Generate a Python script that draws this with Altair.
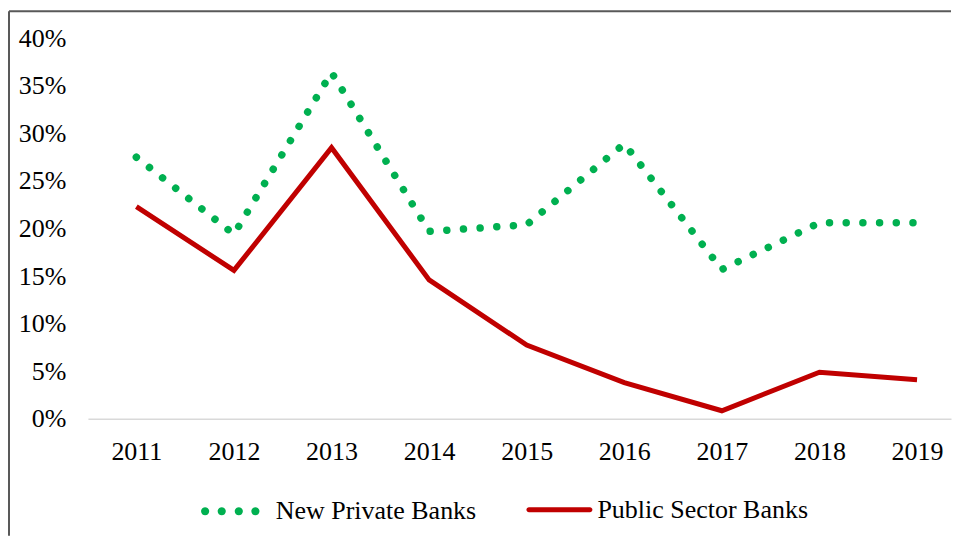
import altair as alt
import pandas as pd

years = [2011, 2012, 2013, 2014, 2015, 2016, 2017, 2018, 2019]
new_private = [27.5, 19.4, 36.4, 19.7, 20.4, 28.9, 15.7, 20.6, 20.6]
public_sector = [22.3, 15.6, 28.5, 14.6, 7.75, 3.8, 0.85, 4.9, 4.1]
series_names = ["New Private Banks", "Public Sector Banks"]
y_ticks = [0, 5, 10, 15, 20, 25, 30, 35, 40]

GREEN = "#00B050"
RED = "#C00000"
FONT = "Liberation Serif"

df_np = pd.DataFrame({"year": years, "value": new_private, "series": series_names[0]})
df_ps = pd.DataFrame({"year": years, "value": public_sector, "series": series_names[1]})

x_enc = alt.X(
    "year:Q",
    scale=alt.Scale(domain=[2010.5035, 2019.348], nice=False, zero=False),
    axis=alt.Axis(
        values=years, format="d", ticks=False, grid=False, title=None,
        domainColor="#D9D9D9", domainWidth=1.5,
        labelFont=FONT, labelFontSize=26, labelColor="#000000", labelPadding=20,
    ),
)
y_enc = alt.Y(
    "value:Q",
    scale=alt.Scale(domain=[0, 40], nice=False),
    axis=alt.Axis(
        values=y_ticks, labelExpr="datum.value + '%'", ticks=False, grid=False,
        domain=False, title=None,
        labelFont=FONT, labelFontSize=26, labelColor="#000000", labelPadding=22,
    ),
)

# custom legend symbols (unit box -1..1)
def circ(cx, r):
    return (f"M{cx - r},0 A{r},{r} 0 1,0 {cx + r},0 A{r},{r} 0 1,0 {cx - r},0 Z ")

dots_path = "".join(circ(c, 0.14) for c in [-0.863, -0.293, 0.293, 0.863])
h = 0.076
bar_path = (f"M-0.924,-{h} L0.924,-{h} A{h},{h} 0 0,1 0.924,{h} "
            f"L-0.924,{h} A{h},{h} 0 0,1 -0.924,-{h} Z")

legend_common = dict(
    orient="none", title=None, padding=0, labelLimit=500,
    labelFont=FONT, labelFontSize=26, labelColor="#000000",
    symbolStrokeWidth=0,
)

green = alt.Chart(df_np).mark_line(
    strokeDash=[0.01, 16.7], strokeCap="round", strokeWidth=7.5
).encode(
    x=x_enc, y=y_enc,
    color=alt.Color(
        "series:N",
        scale=alt.Scale(domain=[series_names[0]], range=[GREEN]),
        legend=alt.Legend(
            legendX=113, legendY=444, symbolType=dots_path, symbolSize=3400,
            symbolFillColor=GREEN, labelOffset=16, **legend_common,
        ),
    ),
)

red = alt.Chart(df_ps).mark_line(strokeWidth=5, strokeJoin="miter").encode(
    x=x_enc, y=y_enc,
    color=alt.Color(
        "series:N",
        scale=alt.Scale(domain=[series_names[1]], range=[RED]),
        legend=alt.Legend(
            legendX=439, legendY=439, symbolType=bar_path, symbolSize=4356,
            symbolFillColor=RED, labelOffset=5, **legend_common,
        ),
    ),
)

frame_df = pd.DataFrame({"k": [0]})
frame_top = alt.Chart(frame_df).mark_rule(color="#595959", strokeWidth=2).encode(
    x=alt.value(-79), x2=alt.value(864), y=alt.value(-27)
)
frame_left = alt.Chart(frame_df).mark_rule(color="#595959", strokeWidth=2).encode(
    x=alt.value(-79), y=alt.value(-27), y2=alt.value(498)
)

chart = (
    alt.layer(frame_top, frame_left, green, red)
    .resolve_scale(color="independent")
    .properties(width=864, height=381, background="#FFFFFF",
                padding={"left": 0, "top": 2, "right": 0, "bottom": 0})
    .configure_view(strokeWidth=0, stroke="transparent")
)

chart.save("out.html", embed_options={"renderer": "svg", "actions": False})
